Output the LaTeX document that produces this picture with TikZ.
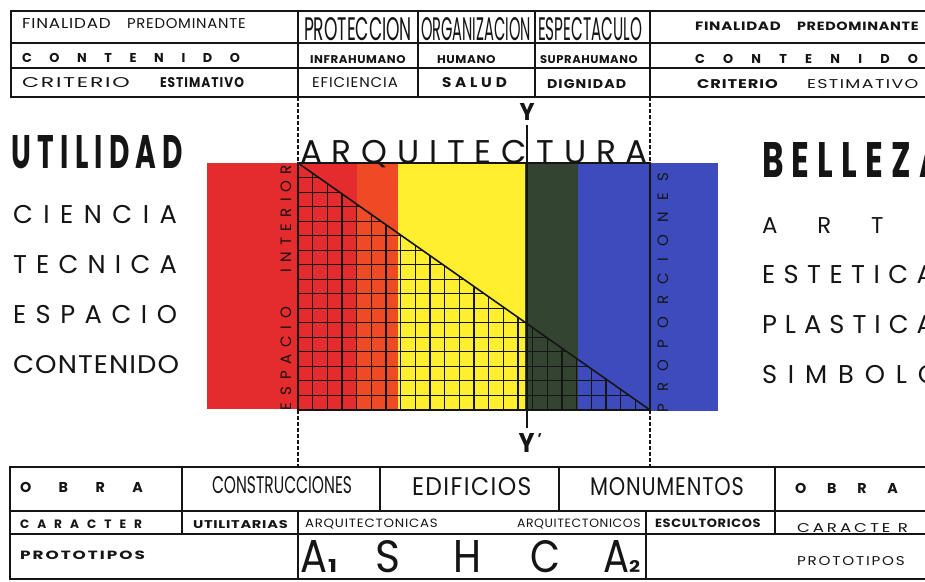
\documentclass[tikz,border=0pt]{standalone}
\usepackage{fontspec}
\setmainfont{Poppins}
\usepackage{graphicx}
\definecolor{cred}{HTML}{E42B2D}
\definecolor{corange}{HTML}{EE4A26}
\definecolor{cyellow}{HTML}{FFEF2E}
\definecolor{cgreen}{HTML}{334530}
\definecolor{cblue}{HTML}{3D4BBD}
\definecolor{ink}{HTML}{151515}
% fit text: [letterspace]{width}{cap height}{text}
\newcommand\fitt[4][0]{\resizebox{#2pt}{#3pt}{\addfontfeatures{LetterSpace=#1}#4\kern-\dimexpr#1\fontdimen6\font/100\relax}}
% spread letters: {width}{cap height}{letters with \hfill}
\newcommand\sprd[3]{{\fontsize{\fpeval{round(#2/0.7,2)}pt}{10pt}\selectfont\makebox[#1pt][s]{#3}}}
\newcommand\hf{\hfill}
\begin{document}
\begin{tikzpicture}[x=1pt,y=-1pt,
  tx/.style={anchor=base west,inner sep=0pt,outer sep=0pt,text=ink},
  rule/.style={draw=ink,line width=1.3pt},
  gridline/.style={draw=ink,line width=1.1pt},
  guide/.style={draw=ink,line width=1.1pt,dash pattern=on 3.5pt off 2.5pt}]
\useasboundingbox (0,0) rectangle (925,581);
\fill[white] (0,0) rectangle (925,581);

% ---------- colour bands ----------
\fill[cred] (207,163) rectangle (357,409);
\fill[corange] (357,163) rectangle (398,409);
\fill[cyellow] (398,163) rectangle (525,410);
\fill[cgreen] (525,163) rectangle (578,410);
\fill[cblue] (578,163) rectangle (718,411);

% ---------- grid in lower triangle ----------
\coordinate (fTL) at (298,163);
\coordinate (fBL) at (298,410);
\coordinate (fBR) at (650,410);
\coordinate (fTR) at (650,163);
\begin{scope}
\clip (fTL) -- (fBL) -- (fBR) -- cycle;
\foreach \i in {0,...,24} \draw[gridline] ({298+\i*352/24},163) -- ({298+\i*352/24},410);
\foreach \j in {0,...,17} \draw[gridline] (298,{163+\j*247/17}) -- (650,{163+\j*247/17});
\end{scope}
\draw[ink,line width=1.3pt] (fTL) -- (fTR) -- (fBR) -- (fBL) -- cycle;
\draw[ink,line width=1.6pt] (fTL) -- (fBR);

% ---------- dashed guides ----------
\coordinate (gL1) at (298,97);  \coordinate (gL2) at (298,467);
\coordinate (gR1) at (650,97);  \coordinate (gR2) at (650,467);
\draw[guide] (gL1) -- (fTL);
\draw[guide] (fBL) -- (gL2);
\draw[guide] (gR1) -- (fTR);
\draw[guide] (fBR) -- (gR2);

% ---------- Y axis ----------
\coordinate (ytop) at (527,125);
\coordinate (ybot) at (527,428);
\draw[ink,line width=2.5pt] (ytop) -- (ybot);
\node[tx] (ylab) at (519.5,120) {\fitt{15}{17}{\bfseries Y}};
\node[tx] (yplab) at (518.5,452) {\fitt{16}{19}{\bfseries Y}\hspace{3pt}\raisebox{9pt}{\fontsize{14}{14}\selectfont\bfseries'}};

% ---------- ARQUITECTURA ----------
\node[tx] (arq) at (300,163) {\sprd{348}{23}{A\hf R\hf Q\hf U\hf I\hf T\hf E\hf C\hf T\hf U\hf R\hf A}};

% ---------- vertical labels ----------
\node[tx,rotate=90] (esp) at (291,410) {\sprd{103}{10.5}{E\hf S\hf P\hf A\hf C\hf I\hf O}};
\node[tx,rotate=90] (inte) at (291,272) {\sprd{107}{10.5}{I\hf N\hf T\hf E\hf R\hf I\hf O\hf R}};
\node[tx,rotate=90] (prop) at (668,412) {\sprd{239}{10.5}{P\hf R\hf O\hf P\hf O\hf R\hf C\hf I\hf O\hf N\hf E\hf S}};

% ---------- left column ----------
\node[tx] (util) at (12,168) {\fitt[22]{165}{33}{\bfseries UTILIDAD}};
\node[tx] (cien) at (13,223) {\sprd{164}{18}{C\hf I\hf E\hf N\hf C\hf I\hf A}};
\node[tx] (tecn) at (13,273) {\sprd{164}{18}{T\hf E\hf C\hf N\hf I\hf C\hf A}};
\node[tx] (espa) at (13,323) {\sprd{164}{18}{E\hf S\hf P\hf A\hf C\hf I\hf O}};
\node[tx] (cont) at (13,373) {\fitt[4]{165}{18}{CONTENIDO}};

% ---------- right column ----------
\node[tx] (bell) at (762,177) {\fitt[25]{173}{35}{\bfseries BELLEZA}};
\node[tx] (arte) at (762,233) {\sprd{173}{16}{A\hf R\hf T\hf E}};
\node[tx] (este) at (762,283) {\sprd{172}{18}{E\hf S\hf T\hf E\hf T\hf I\hf C\hf A}};
\node[tx] (plas) at (762,333) {\sprd{172}{18}{P\hf L\hf A\hf S\hf T\hf I\hf C\hf A}};
\node[tx] (simb) at (762,383) {\sprd{176}{18}{S\hf I\hf M\hf B\hf O\hf L\hf O}};

% ---------- top table ----------
\draw[rule] (11,11) rectangle (940,97);
\draw[rule] (11,43) -- (940,43);
\draw[rule] (11,68) -- (940,68);
\foreach \x in {298,418,535,650} \draw[rule] (\x,11) -- (\x,97);

\node[tx] (finL1) at (22,28.5) {\fitt[5]{88}{10}{FINALIDAD}};
\node[tx] (finL2) at (127,28.5) {\fitt[5]{118}{10}{PREDOMINANTE}};
\node[tx] (prot) at (304,40) {\fitt{108}{23}{PROTECCION}};
\node[tx] (orga) at (421,40) {\fitt{110}{23}{ORGANIZACION}};
\node[tx] (espe) at (538,40) {\fitt{104}{23}{ESPECTACULO}};
\node[tx] (finR1) at (695,30) {\fitt[5]{85}{8.5}{\bfseries FINALIDAD}};
\node[tx] (finR2) at (797,30) {\fitt[5]{121}{8.5}{\bfseries PREDOMINANTE}};

\node[tx] (conL) at (22,62) {\sprd{218}{9}{\bfseries C\hf O\hf N\hf T\hf E\hf N\hf I\hf D\hf O}};
\node[tx] (infr) at (310,63) {\fitt[5]{95}{8}{\bfseries INFRAHUMANO}};
\node[tx] (huma) at (437,63) {\fitt[5]{58}{8}{\bfseries HUMANO}};
\node[tx] (supr) at (540,63) {\fitt[5]{97}{8}{\bfseries SUPRAHUMANO}};
\node[tx] (conR) at (695,63) {\sprd{223}{9}{\bfseries C\hf O\hf N\hf T\hf E\hf N\hf I\hf D\hf O}};

\node[tx] (criL1) at (22,87) {\fitt[8]{106}{10}{CRITERIO}};
\node[tx] (criL2) at (160,87) {\fitt[8]{83}{10}{\bfseries ESTIMATIVO}};
\node[tx] (efic) at (312,87) {\fitt[6]{85}{10}{EFICIENCIA}};
\node[tx] (salu) at (442,87) {\fitt[25]{61}{10}{\bfseries SALUD}};
\node[tx] (dign) at (547,88) {\fitt[8]{78}{9}{\bfseries DIGNIDAD}};
\node[tx] (criR1) at (697,88) {\fitt[6]{80}{9}{\bfseries CRITERIO}};
\node[tx] (criR2) at (807,88) {\fitt[8]{110}{9}{ESTIMATIVO}};

% ---------- bottom table ----------
\draw[rule] (10,467) rectangle (940,579);
\draw[rule] (10,511) -- (940,511);
\draw[rule] (10,534) -- (940,534);
\draw[rule] (182,467) -- (182,534);
\draw[rule] (775,467) -- (775,534);
\draw[rule] (380,467) -- (380,511);
\draw[rule] (559,467) -- (559,511);
\draw[rule] (298,511) -- (298,579);
\draw[rule] (646,511) -- (646,579);

\node[tx] (obrL) at (20,492) {\sprd{123}{10}{\bfseries O\hf B\hf R\hf A}};
\node[tx] (cons) at (212,493) {\fitt{140}{17}{CONSTRUCCIONES}};
\node[tx] (edif) at (412,495) {\fitt[6]{118}{18}{EDIFICIOS}};
\node[tx] (monu) at (590,495) {\fitt[4]{153}{18}{MONUMENTOS}};
\node[tx] (obrR) at (795,493) {\sprd{103}{10}{\bfseries O\hf B\hf R\hf A}};

\node[tx] (carL) at (20,528) {\sprd{122}{8.5}{\bfseries C\hf A\hf R\hf A\hf C\hf T\hf E\hf R}};
\node[tx] (util2) at (193,528) {\fitt[5]{94}{8}{\bfseries UTILITARIAS}};
\node[tx] (arqa) at (305,527) {\fitt[6]{132}{8.5}{ARQUITECTONICAS}};
\node[tx] (arqo) at (517,527) {\fitt[5]{123}{8.5}{ARQUITECTONICOS}};
\node[tx] (escu) at (655,527) {\fitt[5]{105}{8.5}{\bfseries ESCULTORICOS}};
\node[tx] (carR) at (797,532) {\fitt[18]{108}{9}{CARACTE\ R}};

\node[tx] (proL) at (20,559) {\fitt[12]{123}{8.5}{\bfseries PROTOTIPOS}};
\node[tx] (proR) at (797,565) {\fitt[12]{106}{9}{PROTOTIPOS}};

\node[tx] (pA1) at (300,572) {\fitt{27}{32}{A}};
\node[tx] (p1) at (328,572) {\fitt{9}{13}{\bfseries 1}};
\node[tx] (pS) at (375,572) {\fitt{25}{32}{S}};
\node[tx] (pH) at (453,572) {\fitt{28}{32}{H}};
\node[tx] (pC) at (530,572) {\fitt{30}{32}{C}};
\node[tx] (pA2) at (603,572) {\fitt{26}{32}{A}};
\node[tx] (p2) at (629,572) {\fitt{11}{12}{\bfseries 2}};
\end{tikzpicture}
\end{document}
